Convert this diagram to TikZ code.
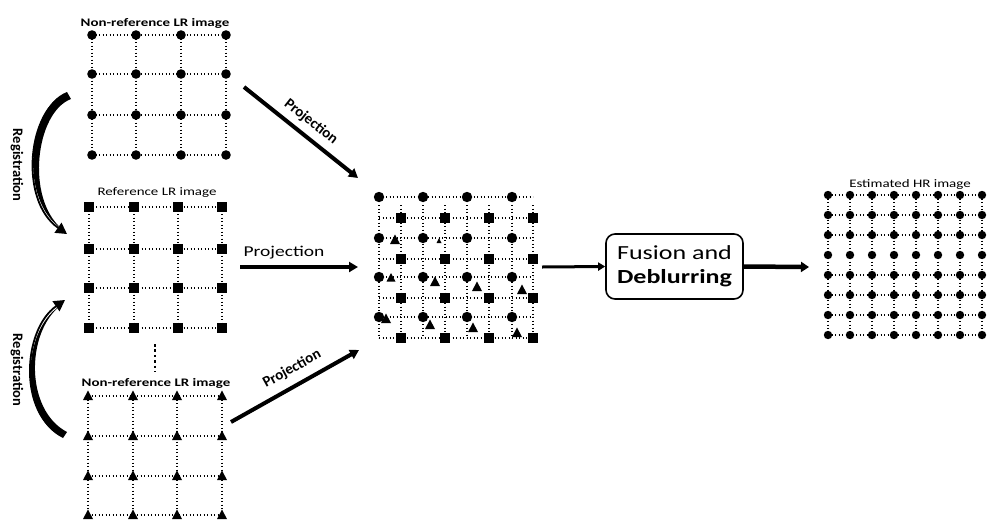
\documentclass[tikz,border=0pt]{standalone}
\usepackage{fontspec}
\setmainfont{Carlito}
\newfontfamily\wide[FakeStretch=1.3]{Carlito}
\usetikzlibrary{arrows.meta}
\begin{document}
\begin{tikzpicture}[x=1pt,y=-1pt,
  dotl/.style={line width=1.1pt, dash pattern=on 1.1pt off 2.4pt},
  ttl/.style={inner sep=0pt, font=\wide\fontsize{11.5}{13}\selectfont},
  projlbl/.style={inner sep=0pt, font=\wide\fontsize{15}{17}\selectfont},
  projlblb/.style={inner sep=0pt, font=\bfseries\fontsize{15}{17}\selectfont},
  reglbl/.style={inner sep=0pt, rotate=-90, font=\bfseries\fontsize{14.5}{16}\selectfont},
  projarrow/.style={line width=4pt, -{Triangle[length=9pt,width=10pt]}},
  regarrow/.style={line width=1.8pt, -{Triangle[length=11pt,width=12pt]}},
  tri/.pic={\fill (0,-5.5) -- (5,4) -- (-5,4) -- cycle;}
]
\useasboundingbox (0,0) rectangle (987,520);

% ---------- Grid 1: non-reference (circles)
\foreach \y in {35,74,115,155} \draw[dotl] (92,\y) -- (226,\y);
\foreach \x in {92,136,181,226} \draw[dotl] (\x,35) -- (\x,155);
\foreach \x in {92,136,181,226} \foreach \y in {35,74,115,155} \fill (\x,\y) circle (4.8);
\node[ttl, font=\wide\bfseries\fontsize{11.5}{13}\selectfont] (t1) at (155,23) {Non-reference LR image};

% ---------- Grid 2: reference (squares)
\foreach \y in {207,249,288,328} \draw[dotl] (89,\y) -- (222,\y);
\foreach \x in {89,134,178,222} \draw[dotl] (\x,207) -- (\x,328);
\foreach \x in {89,134,178,222} \foreach \y in {207,249,288,328} \fill (\x-4.7,\y-4.7) rectangle (\x+4.7,\y+4.7);
\node[ttl] (t2) at (157,193) {Reference LR image};

% ---------- vertical dots
\draw[line width=2.6pt, dash pattern=on 2.6pt off 2.8pt] (155,344) -- (155,372);

% ---------- Grid 3: non-reference (triangles)
\foreach \y in {396,436,476,515} \draw[dotl] (88,\y) -- (222,\y);
\foreach \x in {88,133,177,222} \draw[dotl] (\x,396) -- (\x,515);
\foreach \x in {88,133,177,222} \foreach \y in {396,436,476,515} \pic at (\x,\y) {tri};
\node[ttl, font=\wide\bfseries\fontsize{11.5}{13}\selectfont] (t3) at (156,383) {Non-reference LR image};

% ---------- Registration arcs
\coordinate (r1a) at (67,94);
\coordinate (r1b) at (67,234);
\fill (67,92) .. controls (28,107) and (18,200) .. (62,229) .. controls (25,198) and (36,112) .. (71,99) -- cycle;
\draw[regarrow] (r1a) .. controls (28,108) and (18,200) .. (r1b);
\node[reglbl] (reg1) at (17,165) {Registration};

\coordinate (r2a) at (63,436);
\coordinate (r2b) at (65,300);
\fill (63,438) .. controls (18,416) and (22,330) .. (60,306) .. controls (26,333) and (25,410) .. (67,432) -- cycle;
\draw[regarrow] (r2a) .. controls (18,415) and (22,330) .. (r2b);
\node[reglbl] (reg2) at (17,370) {Registration};

% ---------- Middle fused grid
\foreach \y in {197,218,238,259,277,298,317,338} \draw[dotl] (379,\y) -- (533,\y);
\foreach \x in {379,401,423,445,467,489,512,533} \draw[dotl] (\x,205) -- (\x,338);
\foreach \x in {379,423,467,512} \foreach \y in {197,238,277,317} \fill (\x,\y) circle (5.2);
\foreach \x in {401,445,489,533} \foreach \y in {218,259,298,338} \fill (\x-4.7,\y-4.7) rectangle (\x+4.7,\y+4.7);
\foreach \x/\y/\s in {395/240/1, 439/241/0.5, 391/278/0.9, 435/282/1, 477/287/1, 522/290/1, 386/319/1, 430/325/1, 473/328/1, 517/333/1}
  \pic[scale=\s] at (\x,\y) {tri};

% ---------- Projection arrows
\coordinate (p1a) at (244,87);
\coordinate (p1b) at (358,178);
\draw[projarrow] (p1a) -- (p1b);
\node[projlblb, rotate=-38.5] (l1) at (311,122) {Projection};

\coordinate (p2a) at (240,267);
\coordinate (p2b) at (358,267);
\draw[projarrow, line width=3.6pt] (p2a) -- (p2b);
\node[projlbl] (l2) at (284,253) {Projection};

\coordinate (p3a) at (231,422);
\coordinate (p3b) at (359,350);
\draw[projarrow] (p3a) -- (p3b);
\node[projlblb, rotate=29] (l3) at (292,369) {Projection};

% ---------- Fusion box
\node[draw, rounded corners=9pt, line width=1.6pt, minimum width=137pt, minimum height=65pt,
      align=center, inner sep=0pt, font=\wide\fontsize{20}{24}\selectfont] (fus) at (674.5,266.5)
      {Fusion and\\\textbf{Deblurring}};
\coordinate (a1s) at (542,267);
\draw[line width=3pt, -{Triangle[length=7pt,width=8pt]}] (a1s) -- (fus.west);
\coordinate (a2e) at (809,267);
\draw[line width=4.5pt, -{Triangle[length=8pt,width=10pt]}] (fus.east) -- (a2e);

% ---------- HR grid
\foreach \y in {195,215,235,275,295,315,335} \draw[dotl] (828,\y) -- (982,\y);
\foreach \x in {828,850,872,894,916,938,960,982} \draw[dotl] (\x,195) -- (\x,335);
\foreach \x in {828,850,872,894,916,938,960,982} \foreach \y in {195,215,235,255,275,295,315,335}
  \fill (\x,\y) circle (4.2);
\node[ttl] (t4) at (910,184) {Estimated HR image};
\end{tikzpicture}
\end{document}
